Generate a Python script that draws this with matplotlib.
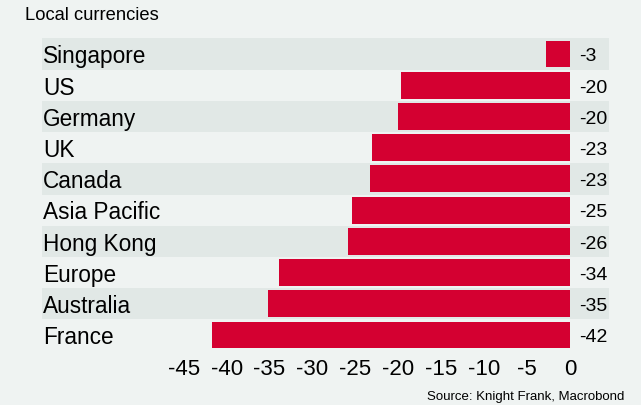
import matplotlib
matplotlib.use("Agg")
import matplotlib.pyplot as plt

plt.rcParams['font.family'] = ['Liberation Sans', 'DejaVu Sans']

countries = ["Singapore", "US", "Germany", "UK", "Canada",
             "Asia Pacific", "Hong Kong", "Europe", "Australia", "France"]
change = [-2.8, -19.7, -20.0, -23.1, -23.3, -25.4, -25.8, -33.9, -35.2, -41.7]
xticks = [-45, -40, -35, -30, -25, -20, -15, -10, -5, 0]

bg = "#eff3f2"
stripe = "#e1e8e6"
red = "#d40031"

fig = plt.figure(figsize=(6.41, 4.06), dpi=100, facecolor=bg)
ax = fig.add_axes([42 / 641, 1 - 351.6 / 406, 567 / 641, 312.2 / 406])
ax.set_facecolor(bg)

y = list(range(len(countries)))
for i in y:
    if i % 2 == 0:
        ax.axhspan(i - 0.5, i + 0.5, color=stripe, lw=0, zorder=0)

ax.barh(y, change, height=0.86, color=red, zorder=2)

for i, (name, v) in enumerate(zip(countries, change)):
    ax.text(0.002, i + 0.06, name, transform=ax.get_yaxis_transform(),
            ha="left", va="center", fontsize=16.3, zorder=3)
    ax.text(1.05, i + 0.06, f"{v:.0f}", ha="left", va="center", fontsize=14, zorder=3)

ax.set_xlim(-61.5, 4.55)
ax.set_ylim(len(countries) - 0.5, -0.5)
ax.set_xticks(xticks)
ax.set_xticklabels([str(t) for t in xticks], fontsize=16)
ax.set_yticks([])
ax.tick_params(axis="x", length=0, pad=5)
for s in ax.spines.values():
    s.set_visible(False)

fig.text(25 / 641, 1 - 15 / 406, "Local currencies", fontsize=13.2,
         ha="left", va="center")
fig.text(624 / 641, 1 - 397 / 406, "Source: Knight Frank, Macrobond",
         fontsize=9.5, ha="right", va="center")

fig.savefig("out.png", dpi=100, facecolor=bg)
